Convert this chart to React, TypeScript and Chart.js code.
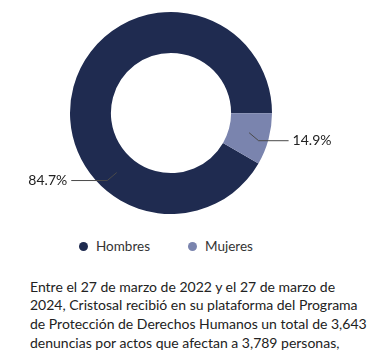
import React, { useEffect, useRef } from "react";
import { Chart, registerables } from "chart.js";

Chart.register(...registerables);

const categories = ["Hombres", "Mujeres"];
const sliceValues = [91.7, 8.3];
const labelTexts = ["84.7%", "14.9%"];
const sliceColors = ["#1f2b50", "#7a84ae"];
const paragraphLines = [
  "Entre el 27 de marzo de 2022 y el 27 de marzo de",
  "2024, Cristosal recibió en su plataforma del Programa",
  "de Protección de Derechos Humanos un total de 3,643",
  "denuncias por actos que afectan a 3,789 personas,",
];

const FONT = "Lato, 'Open Sans', sans-serif";

const calloutPlugin = {
  id: "callouts",
  afterDatasetsDraw(chart: any, _args: any, opts: any) {
    const meta = chart.getDatasetMeta(0);
    const ctx = chart.ctx;
    meta.data.forEach((arc: any, i: number) => {
      const p = arc.getProps(["x", "y", "startAngle", "endAngle", "innerRadius", "outerRadius"], true);
      const f = opts.anchorFractions[i];
      const a = p.startAngle + (p.endAngle - p.startAngle) * f;
      const r = (p.innerRadius + p.outerRadius) / 2;
      const px = p.x + Math.cos(a) * r;
      const py = p.y + Math.sin(a) * r;
      const right = Math.cos(a) >= 0;
      const dir = right ? 1 : -1;
      const ex = px + dir * opts.elbowDx;
      const ey = py + opts.elbowDy;
      const hx = ex + dir * opts.lineLen[i];
      ctx.save();
      ctx.strokeStyle = "#4a4a4a";
      ctx.lineWidth = 1;
      ctx.beginPath();
      ctx.moveTo(px, py);
      ctx.lineTo(ex, ey);
      ctx.lineTo(hx, ey);
      ctx.stroke();
      ctx.fillStyle = "#222";
      ctx.font = `14px ${FONT}`;
      ctx.textBaseline = "middle";
      ctx.textAlign = right ? "left" : "right";
      ctx.fillText(labelTexts[i], hx + dir * opts.textGap, ey);
      ctx.restore();
    });
  },
};

export default function App() {
  const ref = useRef<HTMLCanvasElement | null>(null);
  useEffect(() => {
    if (!ref.current) return;
    const chart = new Chart(ref.current, {
      type: "doughnut",
      data: {
        labels: categories,
        datasets: [
          {
            data: sliceValues,
            backgroundColor: sliceColors,
            borderWidth: 0,
            hoverOffset: 0,
          },
        ],
      },
      options: {
        animation: false,
        responsive: false,
        rotation: 120,
        cutout: "59.5%",
        layout: { padding: { top: 4, bottom: 24, left: 0, right: 36 } },
        plugins: {
          legend: { display: false },
          tooltip: { enabled: false },
          callouts: {
            anchorFractions: [0.31, 0.47],
            elbowDx: 9.5,
            elbowDy: 8,
            lineLen: [36, 30],
            textGap: 4,
          },
        } as any,
      },
      plugins: [calloutPlugin],
    });
    return () => chart.destroy();
  }, []);

  return (
    <div style={{ fontFamily: FONT }}>
      <canvas ref={ref} width={362} height={230} style={{ display: "block" }} />
      <div style={{ position: "relative", height: 16 }}>
        {categories.map((c, i) => (
          <div
            key={c}
            style={{
              position: "absolute",
              left: i === 0 ? 70.5 : 179.5,
              top: 0,
              height: 16,
              display: "flex",
              alignItems: "center",
              whiteSpace: "nowrap",
            }}
          >
            <span
              style={{
                width: 9,
                height: 9,
                borderRadius: "50%",
                background: sliceColors[i],
                display: "inline-block",
              }}
            />
            <span style={{ marginLeft: 8.5, fontSize: 13.5, color: "#333" }}>{c}</span>
          </div>
        ))}
      </div>
      <div
        style={{
          marginTop: 23.5,
          paddingLeft: 22,
          fontSize: 14,
          lineHeight: "18.7px",
          color: "#222",
          whiteSpace: "nowrap",
        }}
      >
        {paragraphLines.map((l, i) => (
          <div key={i}>{l}</div>
        ))}
      </div>
    </div>
  );
}
